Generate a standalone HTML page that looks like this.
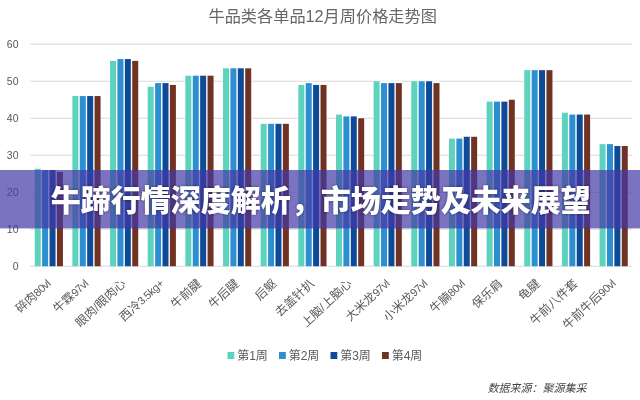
<!DOCTYPE html>
<html lang="zh-CN">
<head>
<meta charset="utf-8">
<title>牛蹄行情深度解析，市场走势及未来展望</title>
<style>
html,body{margin:0;padding:0;background:#fff;}
body{width:640px;height:400px;position:relative;overflow:hidden;font-family:'Liberation Sans','Noto Sans CJK SC',sans-serif;}
svg text{font-family:'Liberation Sans','Noto Sans CJK SC',sans-serif;}
.banner{position:absolute;left:0;top:170px;width:640px;height:59px;
 display:flex;align-items:center;justify-content:center;}
.banner h1{margin:0;font-size:30px;line-height:59px;font-weight:900;color:#fff;white-space:nowrap;letter-spacing:0;
 text-shadow:0 0 3px rgba(0,0,0,0.45);transform:translate(0.8px,1.2px);}
</style>
</head>
<body>
<svg width="640" height="400" viewBox="0 0 640 400" style="position:absolute;left:0;top:0;filter:blur(0.35px)">
<rect width="640" height="400" fill="#fff"/>
<line x1="30.0" x2="632.5" y1="266.25" y2="266.25" stroke="#d9d9d9" stroke-width="1"/>
<text x="18.5" y="270.15" text-anchor="end" font-size="10.5" fill="#595959">0</text>
<line x1="30.0" x2="632.5" y1="229.25" y2="229.25" stroke="#d9d9d9" stroke-width="1"/>
<text x="18.5" y="233.15" text-anchor="end" font-size="10.5" fill="#595959">10</text>
<line x1="30.0" x2="632.5" y1="192.25" y2="192.25" stroke="#d9d9d9" stroke-width="1"/>
<text x="18.5" y="196.15" text-anchor="end" font-size="10.5" fill="#595959">20</text>
<line x1="30.0" x2="632.5" y1="155.25" y2="155.25" stroke="#d9d9d9" stroke-width="1"/>
<text x="18.5" y="159.15" text-anchor="end" font-size="10.5" fill="#595959">30</text>
<line x1="30.0" x2="632.5" y1="118.25" y2="118.25" stroke="#d9d9d9" stroke-width="1"/>
<text x="18.5" y="122.15" text-anchor="end" font-size="10.5" fill="#595959">40</text>
<line x1="30.0" x2="632.5" y1="81.25" y2="81.25" stroke="#d9d9d9" stroke-width="1"/>
<text x="18.5" y="85.15" text-anchor="end" font-size="10.5" fill="#595959">50</text>
<line x1="30.0" x2="632.5" y1="44.25" y2="44.25" stroke="#d9d9d9" stroke-width="1"/>
<text x="18.5" y="48.15" text-anchor="end" font-size="10.5" fill="#595959">60</text>
<rect x="34.73" y="168.75" width="28.20" height="97.50" fill="#fff"/>
<rect x="34.73" y="168.75" width="6.0" height="97.50" fill="#5DD3BE"/>
<rect x="42.13" y="170.05" width="6.0" height="96.20" fill="#2C8FD0"/>
<rect x="49.53" y="170.05" width="6.0" height="96.20" fill="#0D4A98"/>
<rect x="56.93" y="171.90" width="6.0" height="94.35" fill="#6F3223"/>
<rect x="72.38" y="96.05" width="28.20" height="170.20" fill="#fff"/>
<rect x="72.38" y="96.05" width="6.0" height="170.20" fill="#5DD3BE"/>
<rect x="79.78" y="96.05" width="6.0" height="170.20" fill="#2C8FD0"/>
<rect x="87.18" y="96.05" width="6.0" height="170.20" fill="#0D4A98"/>
<rect x="94.58" y="96.05" width="6.0" height="170.20" fill="#6F3223"/>
<rect x="110.04" y="59.05" width="28.20" height="207.20" fill="#fff"/>
<rect x="110.04" y="60.90" width="6.0" height="205.35" fill="#5DD3BE"/>
<rect x="117.44" y="59.05" width="6.0" height="207.20" fill="#2C8FD0"/>
<rect x="124.84" y="59.05" width="6.0" height="207.20" fill="#0D4A98"/>
<rect x="132.24" y="60.90" width="6.0" height="205.35" fill="#6F3223"/>
<rect x="147.70" y="83.10" width="28.20" height="183.15" fill="#fff"/>
<rect x="147.70" y="86.80" width="6.0" height="179.45" fill="#5DD3BE"/>
<rect x="155.10" y="83.10" width="6.0" height="183.15" fill="#2C8FD0"/>
<rect x="162.50" y="83.10" width="6.0" height="183.15" fill="#0D4A98"/>
<rect x="169.90" y="84.95" width="6.0" height="181.30" fill="#6F3223"/>
<rect x="185.35" y="75.70" width="28.20" height="190.55" fill="#fff"/>
<rect x="185.35" y="75.70" width="6.0" height="190.55" fill="#5DD3BE"/>
<rect x="192.75" y="75.70" width="6.0" height="190.55" fill="#2C8FD0"/>
<rect x="200.15" y="75.70" width="6.0" height="190.55" fill="#0D4A98"/>
<rect x="207.55" y="75.70" width="6.0" height="190.55" fill="#6F3223"/>
<rect x="223.01" y="68.30" width="28.20" height="197.95" fill="#fff"/>
<rect x="223.01" y="68.30" width="6.0" height="197.95" fill="#5DD3BE"/>
<rect x="230.41" y="68.30" width="6.0" height="197.95" fill="#2C8FD0"/>
<rect x="237.81" y="68.30" width="6.0" height="197.95" fill="#0D4A98"/>
<rect x="245.21" y="68.30" width="6.0" height="197.95" fill="#6F3223"/>
<rect x="260.67" y="123.80" width="28.20" height="142.45" fill="#fff"/>
<rect x="260.67" y="123.80" width="6.0" height="142.45" fill="#5DD3BE"/>
<rect x="268.07" y="123.80" width="6.0" height="142.45" fill="#2C8FD0"/>
<rect x="275.47" y="123.80" width="6.0" height="142.45" fill="#0D4A98"/>
<rect x="282.87" y="123.80" width="6.0" height="142.45" fill="#6F3223"/>
<rect x="298.32" y="83.10" width="28.20" height="183.15" fill="#fff"/>
<rect x="298.32" y="84.95" width="6.0" height="181.30" fill="#5DD3BE"/>
<rect x="305.72" y="83.10" width="6.0" height="183.15" fill="#2C8FD0"/>
<rect x="313.12" y="84.95" width="6.0" height="181.30" fill="#0D4A98"/>
<rect x="320.52" y="84.95" width="6.0" height="181.30" fill="#6F3223"/>
<rect x="335.98" y="114.55" width="28.20" height="151.70" fill="#fff"/>
<rect x="335.98" y="114.55" width="6.0" height="151.70" fill="#5DD3BE"/>
<rect x="343.38" y="116.40" width="6.0" height="149.85" fill="#2C8FD0"/>
<rect x="350.78" y="116.40" width="6.0" height="149.85" fill="#0D4A98"/>
<rect x="358.18" y="118.25" width="6.0" height="148.00" fill="#6F3223"/>
<rect x="373.63" y="81.25" width="28.20" height="185.00" fill="#fff"/>
<rect x="373.63" y="81.25" width="6.0" height="185.00" fill="#5DD3BE"/>
<rect x="381.03" y="83.10" width="6.0" height="183.15" fill="#2C8FD0"/>
<rect x="388.43" y="83.10" width="6.0" height="183.15" fill="#0D4A98"/>
<rect x="395.83" y="83.10" width="6.0" height="183.15" fill="#6F3223"/>
<rect x="411.29" y="81.25" width="28.20" height="185.00" fill="#fff"/>
<rect x="411.29" y="81.25" width="6.0" height="185.00" fill="#5DD3BE"/>
<rect x="418.69" y="81.25" width="6.0" height="185.00" fill="#2C8FD0"/>
<rect x="426.09" y="81.25" width="6.0" height="185.00" fill="#0D4A98"/>
<rect x="433.49" y="83.10" width="6.0" height="183.15" fill="#6F3223"/>
<rect x="448.95" y="136.75" width="28.20" height="129.50" fill="#fff"/>
<rect x="448.95" y="138.60" width="6.0" height="127.65" fill="#5DD3BE"/>
<rect x="456.35" y="138.60" width="6.0" height="127.65" fill="#2C8FD0"/>
<rect x="463.75" y="136.75" width="6.0" height="129.50" fill="#0D4A98"/>
<rect x="471.15" y="136.75" width="6.0" height="129.50" fill="#6F3223"/>
<rect x="486.60" y="99.75" width="28.20" height="166.50" fill="#fff"/>
<rect x="486.60" y="101.60" width="6.0" height="164.65" fill="#5DD3BE"/>
<rect x="494.00" y="101.60" width="6.0" height="164.65" fill="#2C8FD0"/>
<rect x="501.40" y="101.60" width="6.0" height="164.65" fill="#0D4A98"/>
<rect x="508.80" y="99.75" width="6.0" height="166.50" fill="#6F3223"/>
<rect x="524.26" y="70.15" width="28.20" height="196.10" fill="#fff"/>
<rect x="524.26" y="70.15" width="6.0" height="196.10" fill="#5DD3BE"/>
<rect x="531.66" y="70.15" width="6.0" height="196.10" fill="#2C8FD0"/>
<rect x="539.06" y="70.15" width="6.0" height="196.10" fill="#0D4A98"/>
<rect x="546.46" y="70.15" width="6.0" height="196.10" fill="#6F3223"/>
<rect x="561.92" y="112.70" width="28.20" height="153.55" fill="#fff"/>
<rect x="561.92" y="112.70" width="6.0" height="153.55" fill="#5DD3BE"/>
<rect x="569.32" y="114.55" width="6.0" height="151.70" fill="#2C8FD0"/>
<rect x="576.72" y="114.55" width="6.0" height="151.70" fill="#0D4A98"/>
<rect x="584.12" y="114.55" width="6.0" height="151.70" fill="#6F3223"/>
<rect x="599.57" y="144.15" width="28.20" height="122.10" fill="#fff"/>
<rect x="599.57" y="144.15" width="6.0" height="122.10" fill="#5DD3BE"/>
<rect x="606.97" y="144.15" width="6.0" height="122.10" fill="#2C8FD0"/>
<rect x="614.37" y="146.00" width="6.0" height="120.25" fill="#0D4A98"/>
<rect x="621.77" y="146.00" width="6.0" height="120.25" fill="#6F3223"/>
<text transform="translate(51.33,284.5) rotate(-43)" text-anchor="end" font-size="12" fill="#595959">碎肉<tspan font-size="11" letter-spacing="-0.4">80vl</tspan></text>
<text transform="translate(88.98,284.5) rotate(-43)" text-anchor="end" font-size="12" fill="#595959">牛霖<tspan font-size="11" letter-spacing="-0.4">97vl</tspan></text>
<text transform="translate(126.64,284.5) rotate(-43)" text-anchor="end" font-size="12" fill="#595959">眼肉/眼肉心</text>
<text transform="translate(164.30,284.5) rotate(-43)" text-anchor="end" font-size="12" fill="#595959">西冷<tspan font-size="11" letter-spacing="-0.4">3.5kg+</tspan></text>
<text transform="translate(201.95,284.5) rotate(-43)" text-anchor="end" font-size="12" fill="#595959">牛前腱</text>
<text transform="translate(239.61,284.5) rotate(-43)" text-anchor="end" font-size="12" fill="#595959">牛后腱</text>
<text transform="translate(277.27,284.5) rotate(-43)" text-anchor="end" font-size="12" fill="#595959">后躯</text>
<text transform="translate(314.92,284.5) rotate(-43)" text-anchor="end" font-size="12" fill="#595959">去盖针扒</text>
<text transform="translate(352.58,284.5) rotate(-43)" text-anchor="end" font-size="12" fill="#595959">上脑/上脑心</text>
<text transform="translate(390.23,284.5) rotate(-43)" text-anchor="end" font-size="12" fill="#595959">大米龙<tspan font-size="11" letter-spacing="-0.4">97vl</tspan></text>
<text transform="translate(427.89,284.5) rotate(-43)" text-anchor="end" font-size="12" fill="#595959">小米龙<tspan font-size="11" letter-spacing="-0.4">97vl</tspan></text>
<text transform="translate(465.55,284.5) rotate(-43)" text-anchor="end" font-size="12" fill="#595959">牛腩<tspan font-size="11" letter-spacing="-0.4">80vl</tspan></text>
<text transform="translate(503.20,284.5) rotate(-43)" text-anchor="end" font-size="12" fill="#595959">保乐肩</text>
<text transform="translate(540.86,284.5) rotate(-43)" text-anchor="end" font-size="12" fill="#595959">龟腱</text>
<text transform="translate(578.52,284.5) rotate(-43)" text-anchor="end" font-size="12" fill="#595959">牛前八件套</text>
<text transform="translate(616.17,284.5) rotate(-43)" text-anchor="end" font-size="12" fill="#595959">牛前牛后<tspan font-size="11" letter-spacing="-0.4">90vl</tspan></text>
<text x="322.7" y="21.5" text-anchor="middle" font-size="16.2" fill="#666">牛品类各单品12月周价格走势图</text>
<rect x="227.5" y="352" width="6.8" height="7" fill="#5DD3BE"/>
<text x="237.2" y="360" font-size="12" fill="#595959">第1周</text>
<rect x="279" y="352" width="6.8" height="7" fill="#2C8FD0"/>
<text x="288.7" y="360" font-size="12" fill="#595959">第2周</text>
<rect x="330.5" y="352" width="6.8" height="7" fill="#0D4A98"/>
<text x="340.2" y="360" font-size="12" fill="#595959">第3周</text>
<rect x="382" y="352" width="6.8" height="7" fill="#6F3223"/>
<text x="391.7" y="360" font-size="12" fill="#595959">第4周</text>
<text x="487.5" y="391.5" font-size="11" font-style="italic" fill="#444">数据来源：聚源集采</text>
<rect x="0" y="170" width="640" height="58.4" fill="rgb(65,56,165)" fill-opacity="0.7"/>
</svg>
<div class="banner"><h1>牛蹄行情深度解析，市场走势及未来展望</h1></div>
</body>
</html>
